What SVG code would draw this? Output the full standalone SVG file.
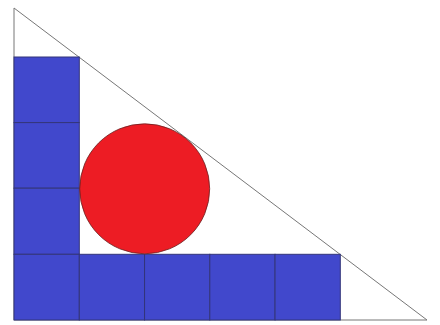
<svg xmlns="http://www.w3.org/2000/svg" width="440" height="325" viewBox="0 0 440 325">
<style>
.sq{fill:#4148CC;stroke:#33357a;stroke-width:1}
.tri{fill:none;stroke:#777;stroke-width:1}
.c{fill:#ED1C24;stroke:#6a2020;stroke-width:0.8}
</style>
<rect width="440" height="325" fill="#fff"/>
<g id="triangle"><polygon class="tri" points="14,8 14,320 427,320"/></g>
<g id="squares">
<rect class="sq" x="14" y="57" width="65.3" height="65.6"/>
<rect class="sq" x="14" y="122.6" width="65.3" height="65.6"/>
<rect class="sq" x="14" y="188.2" width="65.3" height="66.1"/>
<rect class="sq" x="14" y="254.3" width="65.3" height="65.7"/>
<rect class="sq" x="79.3" y="254.3" width="65.25" height="65.7"/>
<rect class="sq" x="144.55" y="254.3" width="65.25" height="65.7"/>
<rect class="sq" x="209.8" y="254.3" width="65.25" height="65.7"/>
<rect class="sq" x="275.05" y="254.3" width="65.25" height="65.7"/>
</g>
<g id="circle"><circle class="c" cx="144.7" cy="188.8" r="65"/></g>
</svg>
